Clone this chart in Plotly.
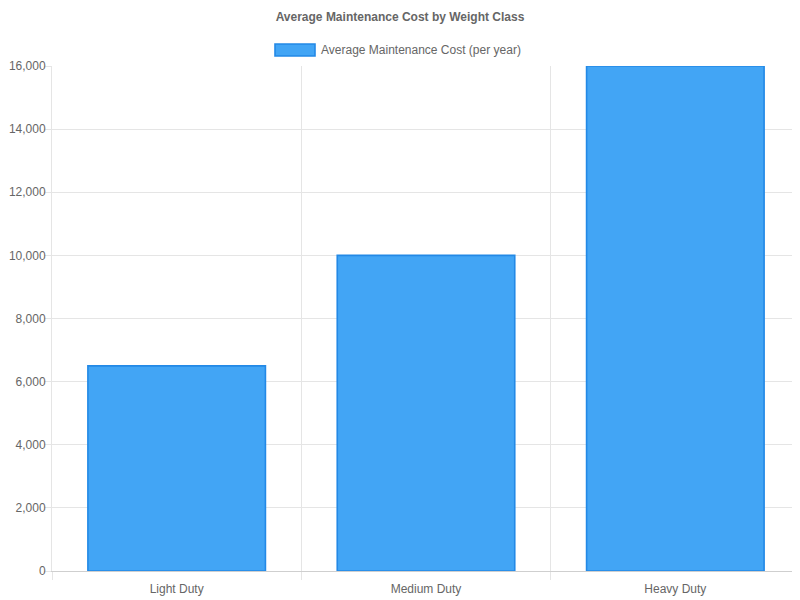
import plotly.graph_objects as go

title = "Average Maintenance Cost by Weight Class"
series_name = "Average Maintenance Cost (per year)"
categories = ["Light Duty", "Medium Duty", "Heavy Duty"]
costs = [6500, 10000, 16000]

fill = "#42A5F5"
border = "#2389E6"
font = "Liberation Sans, Arial, sans-serif"
grid = "#e5e5e5"

# page body has an 8px margin; plot area target (page px): x 52-800, y 66-571
OFF = 8
L, R, T, B = 52 - OFF, 800 - (800 - OFF), 66 - OFF, 600 - (571 - OFF)
PW, PH = 800 - L - R, 600 - T - B

fig = go.Figure()
fig.add_trace(go.Bar(
    x=categories, y=costs, name=series_name,
    marker=dict(color=fill, line=dict(color=border, width=1.6)),
    width=0.712, showlegend=False,
))

fig.update_layout(
    width=800, height=600,
    margin=dict(l=L, r=R, t=T, b=B, autoexpand=False),
    paper_bgcolor="white", plot_bgcolor="white",
    font=dict(family=font, size=12, color="#666"),
    title=dict(text="<b>" + title + "</b>", x=(400 - OFF - L) / PW, xref="paper", xanchor="center",
               y=1 - (17 - OFF) / 600, yanchor="middle", yref="container",
               font=dict(size=12, color="#666", family=font)),
    xaxis=dict(type="category", tickson="boundaries", showgrid=True, gridcolor=grid,
               ticks="outside", ticklen=8, tickcolor=grid, showline=True, automargin=False,
               ticklabelstandoff=7,
               linecolor="#cfcfcf", linewidth=1, tickfont=dict(size=12, color="#666")),
    yaxis=dict(range=[0, 16000], dtick=2000, tickformat=",", showgrid=True, automargin=False,
               gridcolor=grid, zeroline=False, ticks="outside", ticklen=7,
               ticklabelstandoff=-4,
               tickcolor=grid, showline=True, linecolor=grid, linewidth=1,
               tickfont=dict(size=12, color="#666")),
    bargap=0.28,
)

# custom legend (Chart.js style wide swatch), page px converted to paper coords
def px(xp):
    return (xp - OFF - L) / PW

def py(yp):
    return (600 - B - (yp - OFF)) / PH

fig.add_shape(type="rect", xref="paper", yref="paper",
              x0=px(275), x1=px(315), y0=py(56), y1=py(44),
              fillcolor=fill, line=dict(color=border, width=1.6))
fig.add_annotation(xref="paper", yref="paper", x=px(321), y=py(50),
                   text=series_name, showarrow=False, xanchor="left", yanchor="middle",
                   xshift=-2, font=dict(size=12, color="#666", family=font))

fig.write_html("out.html")
